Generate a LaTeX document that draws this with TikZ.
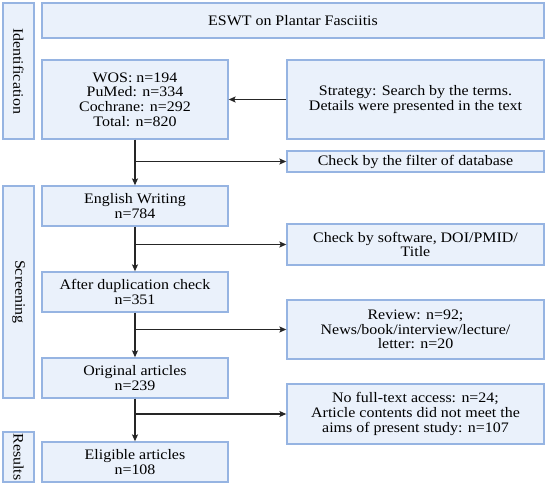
\documentclass[tikz,border=0pt]{standalone}
\usepackage{fontspec}
\setmainfont{Liberation Serif}[FakeStretch=1.1]
\usetikzlibrary{arrows.meta}
\definecolor{boxfill}{RGB}{234,241,251}
\definecolor{boxline}{RGB}{150,180,226}
\tikzset{
  box/.style={draw=boxline, fill=boxfill, line width=1.3pt, inner sep=0pt, align=center,
    font=\fontsize{14.5}{14.7}\selectfont},
  side/.style={box, rotate=-90},
  conn/.style={line width=1.3pt, draw=black!85},
  arr/.style={conn, -{Stealth[length=7pt,width=6pt,inset=1.5pt]}}
}
\begin{document}
\begin{tikzpicture}[x=1pt,y=-1pt]
\useasboundingbox (0,0) rectangle (550,487);
% side labels (rotated: width -> vertical extent)
\node[side, minimum width=136pt, minimum height=31pt] (ident) at (18.5,71) {Identification};
\node[side, minimum width=212pt, minimum height=31pt] (scr) at (18.5,292) {Screening};
\node[side, minimum width=50pt, minimum height=31pt] (res) at (18.5,457) {Results};
% main column
\node[box, minimum width=502pt, minimum height=35pt] (title) at (293,20.5) {ESWT on Plantar Fasciitis};
\node[box, minimum width=186pt, minimum height=79pt] (wos) at (135,99.5) {WOS: n=194\\PuMed: n=334\\Cochrane: n=292\\Total: n=820};
\node[box, minimum width=186pt, minimum height=40pt] (eng) at (135,206) {English Writing\\n=784};
\node[box, minimum width=186pt, minimum height=40pt] (dup) at (135,292) {After duplication check\\n=351};
\node[box, minimum width=186pt, minimum height=40pt] (orig) at (135,378) {Original articles\\n=239};
\node[box, minimum width=186pt, minimum height=40pt] (elig) at (135,462) {Eligible articles\\n=108};
% right column
\node[box, minimum width=257pt, minimum height=79pt] (strat) at (415.5,99.5) {Strategy: Search by the terms.\\Details were presented in the text};
\node[box, minimum width=257pt, minimum height=21pt] (filt) at (415.5,161.5) {Check by the filter of database};
\node[box, minimum width=257pt, minimum height=41pt] (soft) at (415.5,244.5) {Check by software, DOI/PMID/\\Title};
\node[box, minimum width=257pt, minimum height=59pt] (rev) at (415.5,329.5) {Review: n=92;\\News/book/interview/lecture/\\letter: n=20};
\node[box, minimum width=257pt, minimum height=60pt] (nofull) at (415.5,414) {No full-text access: n=24;\\Article contents did not meet the\\aims of present study: n=107};
% connectors
\draw[arr] (strat.west) -- (strat.west -| wos.east);
\draw[arr] (wos.south) -- (eng.north);
\draw[arr] (eng.south) -- (dup.north);
\draw[arr] (dup.south) -- (orig.north);
\draw[arr] (orig.south) -- (elig.north);
\coordinate (b1) at (wos.south |- filt.west);
\coordinate (b2) at (eng.south |- soft.west);
\coordinate (b3) at (dup.south |- rev.west);
\coordinate (b4) at (orig.south |- nofull.west);
\draw[arr] (b1) -- (filt.west);
\draw[arr] (b2) -- (soft.west);
\draw[arr] (b3) -- (rev.west);
\draw[arr] (b4) -- (nofull.west);
\end{tikzpicture}
\end{document}
